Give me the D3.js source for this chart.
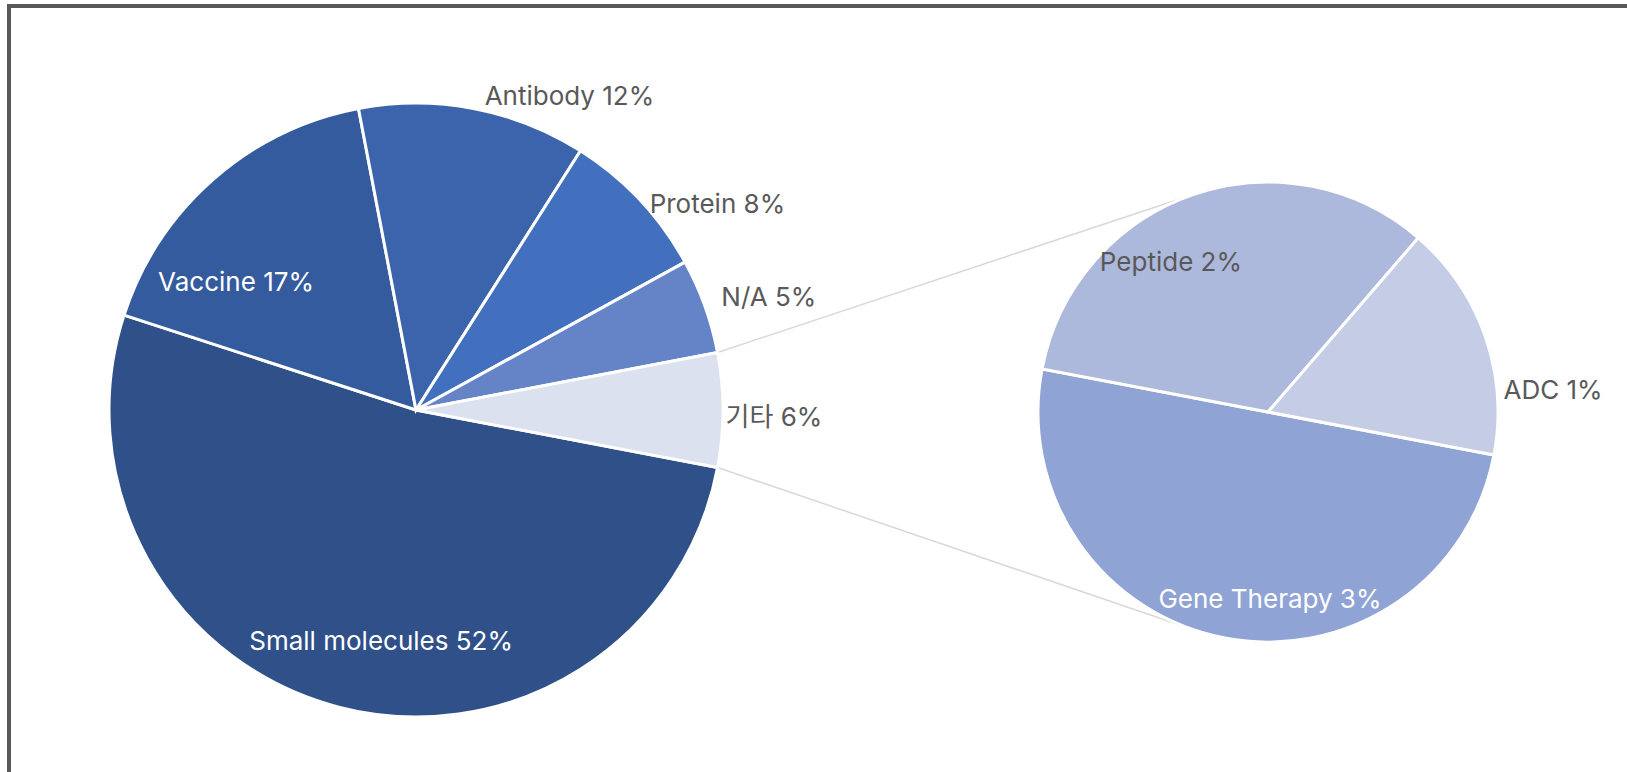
<!DOCTYPE html>
<html>
<head>
<meta charset="utf-8">
<script src="https://cdn.jsdelivr.net/npm/d3@7"></script>
<style>
    html, body { margin: 0; padding: 0; background: #fff; overflow: hidden; }
    text { font-family: Inter, "Noto Sans CJK KR", sans-serif; }
</style>
</head>
<body>
<svg id="chart"></svg>
<script>
// main pie
const mainNames = ["Small molecules", "Vaccine", "Antibody", "Protein", "N/A", "기타"];
const mainValues = [52, 17, 12, 8, 5, 6];
// second pie, breaks down "기타"
const subNames = ["Gene Therapy", "Peptide", "ADC"];
const subValues = [3, 2, 1];

const mainColors = ["#2f5089", "#345b9e", "#3b64ac", "#4370be", "#6584c8", "#dbe1ef"];
const subColors = ["#8fa3d4", "#adb9dc", "#c5cde6"];
const whiteLabels = ["Small molecules", "Vaccine", "Gene Therapy"];

// where each label sits: [angle in degrees, distance as part of radius]
const labelSpots = {
    "Small molecules": [188.6, 0.76],
    "Vaccine": [305.5, 0.72],
    "Antibody": [26, 1.14],
    "Protein": [55.6, 1.19],
    "N/A": [72.2, 1.207],
    "기타": [91, 1.166],
    "Gene Therapy": [179.4, 0.81],
    "Peptide": [327.1, 0.777],
    "ADC": [85.6, 1.243]
};

class PieOfPie {

    constructor(el) {
        this.el = d3.select(el);
    }

    draw() {
        const width = 1627, height = 772;
        const svg = this.el.attr("width", width).attr("height", height);

        // frame (right and bottom edges run off the page)
        svg.append("rect")
            .attr("x", 9).attr("y", 6)
            .attr("width", width + 20).attr("height", height + 20)
            .attr("fill", "none")
            .attr("stroke", "#595959")
            .attr("stroke-width", 4);

        const main = {cx: 416, cy: 410, r: 307};
        const sub = {cx: 1268, cy: 412, r: 230};

        // "기타" is centred on the horizontal, facing the second pie
        const otherShare = mainValues[mainValues.length - 1] / d3.sum(mainValues);
        const start = Math.PI / 2 + otherShare * Math.PI;

        const pie = d3.pie().sort(null).startAngle(start).endAngle(start + 2 * Math.PI);
        const mainArcs = pie(mainValues);
        const subArcs = pie(subValues);

        // connector lines: from the edges of "기타" tangent to the second pie
        const other = mainArcs[mainArcs.length - 1];
        const polar = (c, a, r) => [c.cx + r * Math.sin(a), c.cy - r * Math.cos(a)];
        const p1 = polar(main, other.startAngle, main.r);
        const p2 = polar(main, other.endAngle, main.r);
        const tangent = (p, side) => {
            const dx = sub.cx - p[0], dy = sub.cy - p[1];
            const d = Math.hypot(dx, dy);
            const base = Math.atan2(dy, dx);
            const off = Math.asin(sub.r / d) * side;
            const len = Math.sqrt(d * d - sub.r * sub.r);
            return [p[0] + len * Math.cos(base + off), p[1] + len * Math.sin(base + off)];
        };
        const connectors = [[p1, tangent(p1, -1)], [p2, tangent(p2, 1)]];
        svg.append("g").selectAll("line")
            .data(connectors)
            .enter().append("line")
            .attr("x1", d => d[0][0]).attr("y1", d => d[0][1])
            .attr("x2", d => d[1][0]).attr("y2", d => d[1][1])
            .attr("stroke", "#d9d9d9")
            .attr("stroke-width", 1.5);

        this.drawPie(svg, main, mainArcs, mainNames, mainColors);
        this.drawPie(svg, sub, subArcs, subNames, subColors);
    }

    drawPie(svg, c, arcs, names, colors) {
        const arc = d3.arc().innerRadius(0).outerRadius(c.r);
        const g = svg.append("g").attr("transform", "translate(" + c.cx + "," + c.cy + ")");

        g.selectAll("path")
            .data(arcs)
            .enter().append("path")
            .attr("d", arc)
            .attr("fill", (d, i) => colors[i])
            .attr("stroke", "#fff")
            .attr("stroke-width", 3);

        const total = d3.sum(mainValues);
        g.selectAll("text")
            .data(arcs)
            .enter().append("text")
            .attr("transform", (d, i) => {
                const spot = labelSpots[names[i]];
                const a = spot[0] * Math.PI / 180, r = spot[1] * c.r;
                return "translate(" + (r * Math.sin(a)) + "," + (-r * Math.cos(a)) + ")";
            })
            .attr("dy", "0.36em")
            .attr("text-anchor", "middle")
            .attr("font-size", "26px")
            .attr("fill", (d, i) => whiteLabels.includes(names[i]) ? "#fff" : "#595959")
            .text((d, i) => names[i] + " " + Math.round(d.value / total * 100) + "%");
    }
}

new PieOfPie("#chart").draw();
</script>
</body>
</html>
